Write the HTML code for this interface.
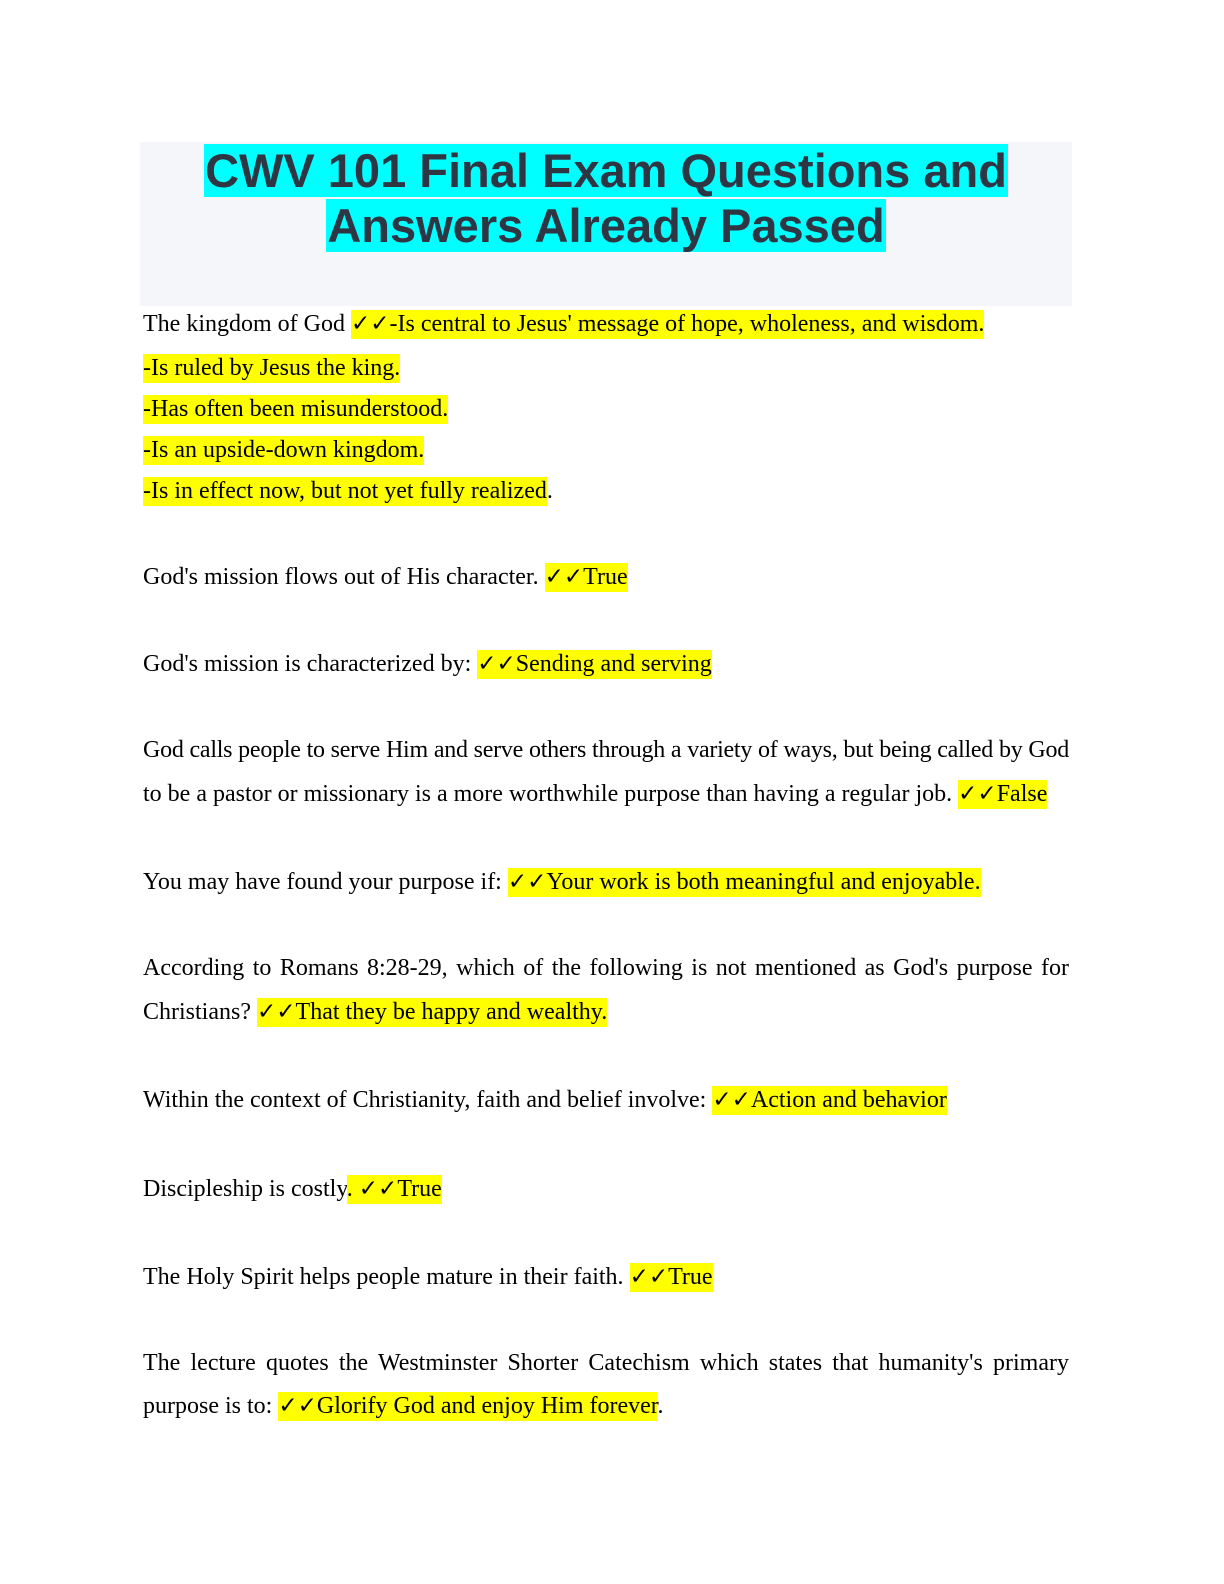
<!DOCTYPE html>
<html><head><meta charset="utf-8"><style>
html,body{margin:0;padding:0;background:#fff;}
body{width:1224px;height:1584px;position:relative;overflow:hidden;}
.box{position:absolute;left:140px;top:142px;width:932px;height:164px;background:#f5f6fa;}
.t{position:absolute;left:140px;width:932px;text-align:center;font-family:"Liberation Sans",sans-serif;font-weight:bold;font-size:47px;color:#2f3542;line-height:55px;}
.t span{background:#00ffff;padding:0 1px;}
.l{position:absolute;left:143px;width:926px;font-family:"Liberation Serif",serif;font-size:24px;line-height:28px;color:#000;white-space:nowrap;}
.h{background:#ffff00;padding:1px 0 2px;}
.j{text-align:justify;text-align-last:justify;white-space:normal;height:28px;}
.c{font-family:"DejaVu Sans",sans-serif;font-weight:bold;font-size:23px;}
</style></head><body>
<div class="box"></div>
<div class="t" style="top:143px"><span>CWV 101 Final Exam Questions and</span></div>
<div class="t" style="top:198px"><span>Answers Already Passed</span></div>

<div class="l" style="top:310px">The kingdom of God <span class="h"><span class="c">✓✓</span>-Is central to Jesus' message of hope, wholeness, and wisdom.</span></div>
<div class="l" style="top:354px"><span class="h">-Is ruled by Jesus the king.</span></div>
<div class="l" style="top:395px"><span class="h">-Has often been misunderstood.</span></div>
<div class="l" style="top:436px"><span class="h">-Is an upside-down kingdom.</span></div>
<div class="l" style="top:477px"><span class="h">-Is in effect now, but not yet fully realized</span>.</div>

<div class="l" style="top:563px">God's mission flows out of His character. <span class="h"><span class="c">✓✓</span>True</span></div>
<div class="l" style="top:650px">God's mission is characterized by: <span class="h"><span class="c">✓✓</span>Sending and serving</span></div>

<div class="l j" style="top:736px;letter-spacing:-0.25px;word-spacing:-1px">God calls people to serve Him and serve others through a variety of ways, but being called by God</div>
<div class="l" style="top:780px">to be a pastor or missionary is a more worthwhile purpose than having a regular job. <span class="h"><span class="c">✓✓</span>False</span></div>

<div class="l" style="top:868px">You may have found your purpose if: <span class="h"><span class="c">✓✓</span>Your work is both meaningful and enjoyable.</span></div>

<div class="l j" style="top:954px">According to Romans 8:28-29, which of the following is not mentioned as God's purpose for</div>
<div class="l" style="top:998px">Christians? <span class="h"><span class="c">✓✓</span>That they be happy and wealthy.</span></div>

<div class="l" style="top:1086px">Within the context of Christianity, faith and belief involve: <span class="h"><span class="c">✓✓</span>Action and behavior</span></div>
<div class="l" style="top:1175px">Discipleship is costly<span class="h">. <span class="c">✓✓</span>True</span></div>
<div class="l" style="top:1263px">The Holy Spirit helps people mature in their faith. <span class="h"><span class="c">✓✓</span>True</span></div>

<div class="l j" style="top:1349px">The lecture quotes the Westminster Shorter Catechism which states that humanity's primary</div>
<div class="l" style="top:1392px">purpose is to: <span class="h"><span class="c">✓✓</span>Glorify God and enjoy Him forever</span>.</div>
</body></html>
